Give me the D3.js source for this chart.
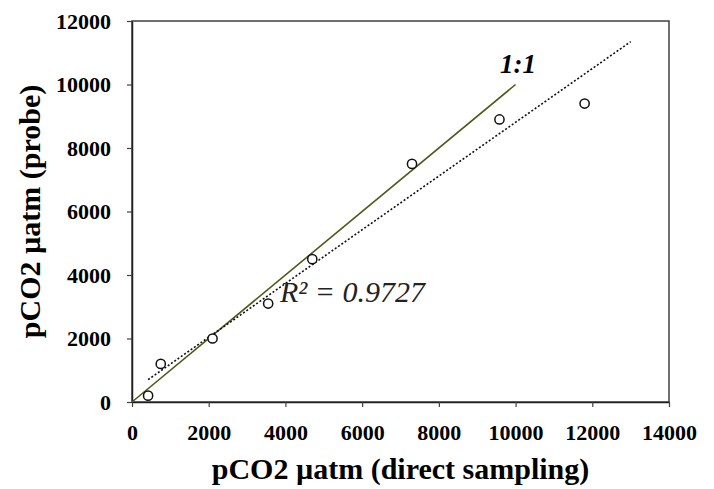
<!DOCTYPE html>
<html>
<head>
<meta charset="utf-8">
<script src="https://cdnjs.cloudflare.com/ajax/libs/d3/7.8.5/d3.min.js"></script>
<style>
  body { margin: 0; background: #fff; }
  svg { display: block; }
  .tick text { font-family: 'Liberation Serif', 'Times New Roman', serif; font-weight: bold; font-size: 22px; }
</style>
</head>
<body>
<svg id="chart" width="714" height="489"></svg>
<script>
// data
var direct = [420, 750, 2100, 3550, 4700, 7300, 9580, 11800];
var probe  = [200, 1200, 2000, 3100, 4500, 7500, 8900, 9400];
var x_ticks = [0, 2000, 4000, 6000, 8000, 10000, 12000, 14000];
var y_ticks = [0, 2000, 4000, 6000, 8000, 10000, 12000];
var one_to_one = [0, 10000];   // 1:1 line from / to
var trend_end = 13000;         // trendline forecast forward
var r2_label = "R² = 0.9727";

var svg = d3.select("#chart");
var margin = {top: 21, left: 132, bottom: 87, right: 45};
var width = 714, height = 489;

var x = d3.scaleLinear()
    .domain([0, 14000])
    .range([margin.left, width - margin.right]);

var y = d3.scaleLinear()
    .domain([0, 12000])
    .range([height - margin.bottom, margin.top]);

var serif = "'Liberation Serif', 'Times New Roman', serif";

// frame
svg.append("rect")
    .attr("x", x(0)).attr("y", y(12000))
    .attr("width", x(14000) - x(0)).attr("height", y(0) - y(12000))
    .attr("fill", "none").attr("stroke", "#404040").attr("stroke-width", 1.5);

// axes
var xAxis = svg.append("g")
    .attr("transform", `translate(0,${y(0)})`)
    .call(d3.axisBottom(x).tickValues(x_ticks).tickSize(5).tickSizeOuter(0).tickPadding(17).tickFormat(d3.format("d")));

var yAxis = svg.append("g")
    .attr("transform", `translate(${x(0)},0)`)
    .call(d3.axisLeft(y).tickValues(y_ticks).tickSize(5).tickSizeOuter(0).tickPadding(16).tickFormat(d3.format("d")));

[xAxis, yAxis].forEach(function(a) {
    a.attr("font-family", null).attr("font-size", null);
    a.select(".domain").attr("stroke", "#202020").attr("stroke-width", 1.5);
    a.selectAll(".tick line").attr("stroke", "#404040").attr("stroke-width", 1.2);
    a.selectAll(".tick text").attr("fill", "#000");
});

// 1:1 line
svg.append("line")
    .attr("x1", x(one_to_one[0])).attr("y1", y(one_to_one[0]))
    .attr("x2", x(one_to_one[1])).attr("y2", y(one_to_one[1]))
    .attr("stroke", "#4d5a1c").attr("stroke-width", 1.6);

// linear trendline (least squares on the points)
var mx = d3.mean(direct), my = d3.mean(probe);
var sxy = d3.sum(direct, (d, i) => (d - mx) * (probe[i] - my));
var sxx = d3.sum(direct, d => (d - mx) * (d - mx));
var slope = sxy / sxx, intercept = my - slope * mx;
var x0 = d3.min(direct);

svg.append("line")
    .attr("x1", x(x0)).attr("y1", y(slope * x0 + intercept))
    .attr("x2", x(trend_end)).attr("y2", y(slope * trend_end + intercept))
    .attr("stroke", "#111").attr("stroke-width", 1.6)
    .attr("stroke-dasharray", "2,2");

// points
svg.selectAll("circle.pt")
    .data(direct)
  .enter().append("circle")
    .attr("class", "pt")
    .attr("cx", d => x(d))
    .attr("cy", (d, i) => y(probe[i]))
    .attr("r", 4.6)
    .attr("fill", "#fff")
    .attr("stroke", "#111")
    .attr("stroke-width", 1.5);

// labels
svg.append("text")
    .attr("x", 500).attr("y", 73)
    .style("font-family", serif).attr("font-weight", "bold").attr("font-style", "italic")
    .attr("font-size", "27px")
    .text("1:1");

svg.append("text")
    .attr("x", 280).attr("y", 302)
    .style("font-family", serif).attr("font-style", "italic")
    .attr("font-size", "30px").attr("fill", "#222")
    .text(r2_label);

// axis titles
svg.append("text")
    .attr("x", (x(0) + x(14000)) / 2).attr("y", 479)
    .attr("text-anchor", "middle")
    .style("font-family", serif).attr("font-weight", "bold").attr("font-size", "30px")
    .text("pCO2 µatm (direct sampling)");

svg.append("text")
    .attr("transform", `translate(40,${(y(0) + y(12000)) / 2}) rotate(-90)`)
    .attr("text-anchor", "middle")
    .style("font-family", serif).attr("font-weight", "bold").attr("font-size", "30px")
    .text("pCO2 µatm (probe)");
</script>
</body>
</html>
